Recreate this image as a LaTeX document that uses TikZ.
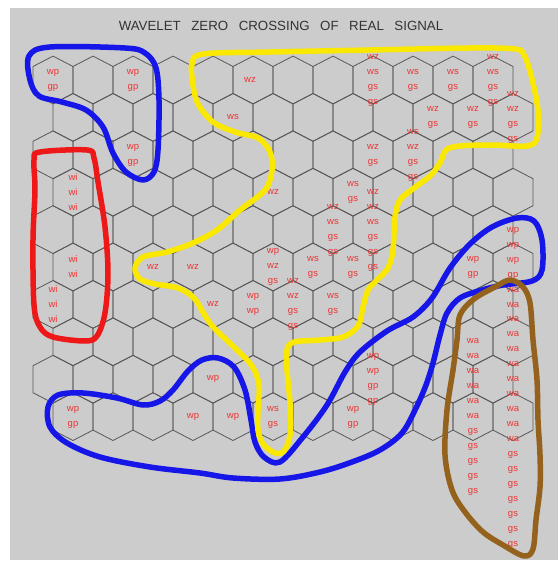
\documentclass[tikz,border=0pt]{standalone}
\usepackage{fontspec}
\setmainfont{Liberation Sans}
\definecolor{bggray}{RGB}{204,204,204}
\definecolor{gridgray}{RGB}{88,88,88}
\definecolor{lblred}{RGB}{238,52,52}
\definecolor{penblue}{RGB}{22,22,232}
\definecolor{penyellow}{RGB}{250,232,0}
\definecolor{penred}{RGB}{238,24,24}
\definecolor{penbrown}{RGB}{148,98,28}
\tikzset{
  hexline/.style={draw=gridgray, line width=0.8pt},
  lbl/.style={text=lblred, font=\fontsize{9.5}{15}\selectfont, align=center, inner sep=0pt},
  pen/.style={line width=5.5pt, line cap=round, line join=round},
}
\begin{document}
\begin{tikzpicture}[x=1pt, y=-1pt]
            \fill[white] (0,0) rectangle (558,561);
            \fill[bggray] (10,8) rectangle (558,560);

            \node[font=\fontsize{13.3}{15}\selectfont, text=black!80] (title) at (281,26)
                {WAVELET\hspace{10.5pt}ZERO\hspace{10.5pt}CROSSING\hspace{10.5pt}OF\hspace{10.5pt}REAL\hspace{10.5pt}SIGNAL};

            % hex grid
            \foreach \r in {0,...,9}{
                \foreach \c in {0,...,11}{
                    \pgfmathsetmacro\hx{53+40*\c+20*mod(\r,2)}
                    \pgfmathsetmacro\hy{80+37.4*\r}
                    \draw[hexline] (\hx,\hy-23.9) -- ++(20,10.4) -- ++(0,27) -- ++(-20,10.4)
                        -- ++(-20,-10.4) -- ++(0,-27) -- cycle;
                }
            }

            % row 0
            \node[lbl] (r0c0) at (53,80) {wp\\gp};
            \node[lbl] (r0c2) at (133,80) {wp\\gp};
            \node[lbl] (r0c5) at (250,80) {wz};
            \node[lbl] (r0c8) at (373,80) {wz\\ws\\gs\\gs};
            \node[lbl] (r0c9) at (413,80) {ws\\gs};
            \node[lbl] (r0c10) at (453,80) {ws\\gs};
            \node[lbl] (r0c11) at (493,80) {wz\\ws\\gs\\gs};
            % row 1
            \node[lbl] (r1c4) at (233,117) {ws};
            \node[lbl] (r1c9) at (433,117) {wz\\gs};
            \node[lbl] (r1c10) at (473,117) {wz\\gs};
            \node[lbl] (r1c11) at (513,117) {wz\\wz\\gs\\gs};
            % row 2
            \node[lbl] (r2c2) at (133,155) {wp\\gp};
            \node[lbl] (r2c8) at (373,155) {wz\\gs};
            \node[lbl] (r2c9) at (413,155) {ws\\wz\\gs\\gs};
            % row 3
            \node[lbl] (r3c0) at (73,192) {wi\\wi\\wi};
            \node[lbl] (r3c5) at (273,192) {wz};
            \node[lbl] (r3c7) at (353,192) {ws\\gs};
            % row 4
            \node[lbl] (r4c7) at (333,230) {wz\\ws\\gs\\gs};
            \node[lbl] (r4c8) at (373,230) {wz\\wz\\ws\\gs\\gs\\gs};
            % row 5
            \node[lbl] (r5c0) at (73,267) {wi\\wi};
            \node[lbl] (r5c2) at (153,267) {wz};
            \node[lbl] (r5c3) at (193,267) {wz};
            \node[lbl] (r5c5) at (273,267) {wp\\wz\\gs};
            \node[lbl] (r5c6) at (313,267) {ws\\gs};
            \node[lbl] (r5c7) at (353,267) {ws\\gs};
            \node[lbl] (r5c10) at (473,267) {wp\\gp};
            \node[lbl] (r5c11) at (513,267) {wp\\wp\\wp\\gp\\wa\\wa};
            % row 6
            \node[lbl] (r6c0) at (53,304) {wi\\wi\\wi};
            \node[lbl] (r6c4) at (213,304) {wz};
            \node[lbl] (r6c5) at (253,304) {wp\\wp};
            \node[lbl] (r6c6) at (293,304) {wz\\wz\\gs\\gs};
            \node[lbl] (r6c7) at (333,304) {ws\\gs};
            % row 8
            \node[lbl] (r8c4) at (213,379) {wp};
            \node[lbl] (r8c8) at (373,379) {wp\\wp\\gp\\gp};
            % row 9
            \node[lbl] (r9c0) at (73,417) {wp\\gp};
            \node[lbl] (r9c3) at (193,417) {wp};
            \node[lbl] (r9c4) at (233,417) {wp};
            \node[lbl] (r9c5) at (273,417) {ws\\gs};
            \node[lbl] (r9c7) at (353,417) {wp\\gp};
            \node[lbl] (r9c10) at (473,417) {wa\\wa\\wa\\wa\\wa\\wa\\gs\\gs\\gs\\gs\\gs};
            \node[lbl] (r9c11) at (513,432) {wa\\wa\\wa\\wa\\wa\\wa\\wa\\wa\\wa\\gs\\gs\\gs\\gs\\gs\\gs\\gs};

            % contours
            \draw[pen, penblue] plot[smooth cycle, tension=0.55] coordinates {
                (29,56) (30,80) (39,96) (62,102) (86,110) (103,127) (113,153) (126,172)
                (143,180) (154,172) (158,150) (159,100) (156,68) (145,53) (125,48) (50,47)};
            \draw[pen, penblue] plot[smooth cycle, tension=0.55] coordinates {
                (280,462) (303,437) (327,405) (345,372) (360,352) (387,331) (413,317)
                (432,298) (450,268) (470,244) (492,227) (517,218) (534,221) (542,240)
                (542,270) (532,281) (503,285) (482,290) (460,298) (447,313) (440,335)
                (433,363) (426,385) (416,408) (402,433) (380,450) (352,462) (320,472)
                (280,479) (233,478) (200,473) (150,467) (100,457) (67,443) (50,427)
                (48,407) (58,395) (83,393) (117,398) (143,405) (160,401) (173,390)
                (188,371) (202,360) (218,358) (234,367) (245,390) (251,420) (255,442) (264,457)};
            \draw[pen, penyellow] plot[smooth cycle, tension=0.55] coordinates {
                (192,64) (193,85) (198,104) (213,122) (235,132) (258,138) (270,152)
                (272,170) (265,190) (240,210) (217,230) (193,243) (167,252) (143,257)
                (135,268) (140,279) (155,284) (178,288) (194,298) (204,314) (214,328)
                (234,347) (252,366) (259,385) (258,410) (258,430) (263,444) (275,453)
                (284,451) (290,435) (290,403) (287,370) (287,350) (294,342) (320,340)
                (343,337) (358,326) (363,307) (368,290) (378,279) (388,268) (393,250)
                (395,217) (400,200) (414,188) (430,176) (440,163) (446,150) (460,146)
                (493,145) (527,146) (537,138) (538,110) (531,75) (524,55) (515,49)
                (470,48) (370,50) (270,52) (203,54)};
            \draw[pen, penred] plot[smooth cycle, tension=0.55] coordinates {
                (34,160) (40,152) (87,150) (94,158) (98,182) (105,227) (108,273)
                (105,313) (97,336) (85,341) (53,337) (40,327) (34,305) (33,240) (35,190)};
            \draw[pen, penbrown] plot[smooth cycle, tension=0.55] coordinates {
                (510,280) (523,287) (530,303) (533,340) (537,380) (538,420) (540,455)
                (540,487) (536,520) (533,549) (524,556) (503,545) (483,532) (465,512)
                (452,490) (445,455) (447,410) (453,370) (457,340) (460,315) (474,299) (495,287)};
\end{tikzpicture}
\end{document}
